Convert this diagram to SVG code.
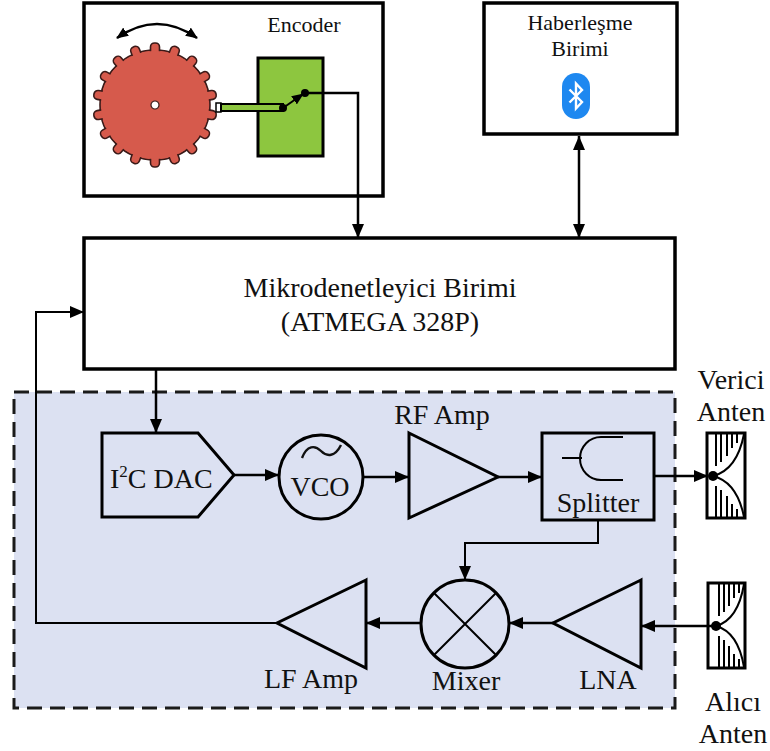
<svg xmlns="http://www.w3.org/2000/svg" width="770" height="751" viewBox="0 0 770 751">
  <style>
    text { font-family: "Liberation Serif", "DejaVu Serif", "Times New Roman", serif; fill: #111; }
    .big { font-size: 28px; }
    .small { font-size: 22px; }
    .box { fill: #fff; stroke: #000; stroke-width: 3.5; }
    .blk { fill: none; stroke: #000; stroke-width: 3; stroke-linejoin: miter; }
    .wire { fill: none; stroke: #000; stroke-width: 2.5; }
    .thin { fill: none; stroke: #000; stroke-width: 2; }
    .tooth { fill: #d65a4c; stroke: #3a1a18; stroke-width: 1.6; }
  </style>
  <defs>
    <marker id="arr" viewBox="0 0 14 12" refX="14" refY="6" markerWidth="14" markerHeight="12" markerUnits="userSpaceOnUse" orient="auto-start-reverse">
      <path d="M0,0 L14,6 L0,12 Z" fill="#000"/>
    </marker>
    <marker id="arrS" viewBox="0 0 12 10" refX="11" refY="5" markerWidth="12" markerHeight="10" markerUnits="userSpaceOnUse" orient="auto-start-reverse">
      <path d="M0,0 L12,5 L0,10 Z" fill="#000"/>
    </marker>
  </defs>

  <rect width="770" height="751" fill="#fff"/>

  <!-- RF section background -->
  <g id="rf-section">
    <rect x="14" y="392" width="661" height="316" fill="#dce1f2" stroke="#1a1a1a" stroke-width="3" stroke-dasharray="15 8"/>
  </g>

  <!-- Encoder unit -->
  <g id="encoder">
    <rect class="box" x="84" y="3" width="299" height="193"/>
    <text class="small" x="304" y="32" text-anchor="middle">Encoder</text>
    <!-- rotation arrow -->
    <path class="wire" d="M117,38 Q157,10 197,38" marker-start="url(#arrS)" marker-end="url(#arrS)"/>
    <!-- gear wheel -->
    <g transform="translate(155,105)">
      <circle r="55" class="tooth"/>
      <g id="teeth">
        <rect class="tooth" x="-4.5" y="-62" width="9" height="14" rx="4" transform="rotate(0)"/>
        <rect class="tooth" x="-4.5" y="-62" width="9" height="14" rx="4" transform="rotate(20)"/>
        <rect class="tooth" x="-4.5" y="-62" width="9" height="14" rx="4" transform="rotate(40)"/>
        <rect class="tooth" x="-4.5" y="-62" width="9" height="14" rx="4" transform="rotate(60)"/>
        <rect class="tooth" x="-4.5" y="-62" width="9" height="14" rx="4" transform="rotate(80)"/>
        <rect class="tooth" x="-4.5" y="-62" width="9" height="14" rx="4" transform="rotate(100)"/>
        <rect class="tooth" x="-4.5" y="-62" width="9" height="14" rx="4" transform="rotate(120)"/>
        <rect class="tooth" x="-4.5" y="-62" width="9" height="14" rx="4" transform="rotate(140)"/>
        <rect class="tooth" x="-4.5" y="-62" width="9" height="14" rx="4" transform="rotate(160)"/>
        <rect class="tooth" x="-4.5" y="-62" width="9" height="14" rx="4" transform="rotate(180)"/>
        <rect class="tooth" x="-4.5" y="-62" width="9" height="14" rx="4" transform="rotate(200)"/>
        <rect class="tooth" x="-4.5" y="-62" width="9" height="14" rx="4" transform="rotate(220)"/>
        <rect class="tooth" x="-4.5" y="-62" width="9" height="14" rx="4" transform="rotate(240)"/>
        <rect class="tooth" x="-4.5" y="-62" width="9" height="14" rx="4" transform="rotate(260)"/>
        <rect class="tooth" x="-4.5" y="-62" width="9" height="14" rx="4" transform="rotate(280)"/>
        <rect class="tooth" x="-4.5" y="-62" width="9" height="14" rx="4" transform="rotate(300)"/>
        <rect class="tooth" x="-4.5" y="-62" width="9" height="14" rx="4" transform="rotate(320)"/>
        <rect class="tooth" x="-4.5" y="-62" width="9" height="14" rx="4" transform="rotate(340)"/>
      </g>
      <circle r="54" fill="#d65a4c"/>
      <circle r="4" fill="#fff" stroke="#3a1a18" stroke-width="1.2"/>
    </g>
    <!-- sensor block and shaft -->
    <rect x="258" y="58" width="65" height="98" fill="#8dc63f" stroke="#000" stroke-width="3"/>
    <rect x="216" y="103" width="5" height="9" fill="#fff" stroke="#000" stroke-width="1.5"/>
    <rect x="221" y="104" width="62" height="7" fill="#8dc63f" stroke="#000" stroke-width="2"/>
    <circle cx="283" cy="108" r="4" fill="#000"/>
    <line class="thin" x1="283" y1="108" x2="303" y2="94" marker-end="url(#arrS)"/>
    <circle cx="305" cy="93" r="4" fill="#000"/>
  </g>

  <!-- Communication unit -->
  <g id="comm">
    <rect class="box" x="484" y="3" width="193" height="131"/>
    <text class="small" x="580" y="30" text-anchor="middle">Haberleşme</text>
    <text class="small" x="580" y="56" text-anchor="middle">Birimi</text>
    <rect x="562" y="73" width="28" height="46" rx="14" fill="#1e88f0"/>
    <path d="M569.5,89.5 L582,102 L576,108.5 L576,83.5 L582,90 L569.5,102.5" fill="none" stroke="#fff" stroke-width="2.4" stroke-linejoin="miter"/>
  </g>

  <!-- Microcontroller -->
  <g id="mcu">
    <rect class="box" x="84" y="238" width="591" height="131"/>
    <text class="big" x="380" y="297" text-anchor="middle">Mikrodenetleyici Birimi</text>
    <text class="big" x="380" y="331" text-anchor="middle">(ATMEGA 328P)</text>
  </g>

  <!-- DAC -->
  <g id="dac">
    <path class="blk" d="M102,433 L198,433 L234,475 L198,517 L102,517 Z"/>
    <text class="big" x="110" y="488">I<tspan font-size="17" dy="-11">2</tspan><tspan dy="11">C DAC</tspan></text>
  </g>

  <!-- VCO -->
  <g id="vco">
    <circle class="blk" cx="321" cy="477" r="42"/>
    <path d="M302,458 C307,445 315,445 321,451 C327,457 335,457 341,445" fill="none" stroke="#111" stroke-width="2.4"/>
    <text class="big" x="320" y="496" text-anchor="middle">VCO</text>
  </g>

  <!-- RF amplifier -->
  <g id="rf-amp">
    <path class="blk" d="M409,433 L498,477 L409,518 Z"/>
    <text class="big" x="442" y="424" text-anchor="middle">RF Amp</text>
  </g>

  <!-- Splitter -->
  <g id="splitter">
    <rect class="blk" x="542" y="433" width="112" height="87"/>
    <path class="thin" d="M562,458 L582,458 M623,437 L601,437 A21,21.5 0 0 0 601,480 L623,480"/>
    <text class="big" x="598" y="512" text-anchor="middle">Splitter</text>
  </g>

  <!-- Transmit antenna -->
  <g id="tx-antenna">
    <rect x="707" y="433" width="38" height="85" fill="#fff" stroke="#000" stroke-width="3"/>
    <path class="thin" d="M713,476 Q737,470 744,434 M713,476 Q737,482 744,517"/>
    <path class="thin" d="M716,434 V466 M721,434 V462 M727,434 V456 M732,434 V448 M737,434 V443 M716,518 V486 M721,518 V490 M727,518 V496 M732,518 V504 M737,518 V509"/>
    <circle cx="713" cy="476" r="5" fill="#000"/>
    <text class="big" x="731" y="389" text-anchor="middle">Verici</text>
    <text class="big" x="731" y="421" text-anchor="middle">Anten</text>
  </g>

  <!-- Receive antenna -->
  <g id="rx-antenna">
    <rect x="708" y="583" width="37" height="85" fill="#fff" stroke="#000" stroke-width="3"/>
    <path class="thin" d="M716,626 Q738,620 744,584 M716,626 Q738,632 744,667"/>
    <path class="thin" d="M719,584 V616 M724,584 V612 M729,584 V606 M734,584 V598 M739,584 V593 M719,667 V636 M724,667 V640 M729,667 V646 M734,667 V654 M739,667 V659"/>
    <circle cx="716" cy="626" r="5" fill="#000"/>
    <text class="big" x="733" y="711" text-anchor="middle">Alıcı</text>
    <text class="big" x="733" y="743" text-anchor="middle">Anten</text>
  </g>

  <!-- LNA -->
  <g id="lna">
    <path class="blk" d="M641,580 L553,623 L641,668 Z"/>
    <text class="big" x="608" y="689" text-anchor="middle">LNA</text>
  </g>

  <!-- Mixer -->
  <g id="mixer">
    <circle class="blk" cx="465" cy="624" r="44"/>
    <path class="thin" d="M434,593 L496,655 M496,593 L434,655" stroke-width="2.2"/>
    <text class="big" x="466" y="690" text-anchor="middle">Mixer</text>
  </g>

  <!-- LF amplifier -->
  <g id="lf-amp">
    <path class="blk" d="M366,580 L277,623 L366,668 Z"/>
    <text class="big" x="311" y="688" text-anchor="middle">LF Amp</text>
  </g>

  <!-- Signal connections -->
  <g id="connectors">
    <path class="wire" d="M305,93 H358 V238" marker-end="url(#arr)"/>
    <path class="wire" d="M579,136 V238" stroke-width="3" marker-start="url(#arr)" marker-end="url(#arr)"/>
    <path class="wire" d="M156,369 V433" marker-end="url(#arr)"/>
    <path class="wire" d="M234,475 H279" marker-end="url(#arr)"/>
    <path class="wire" d="M363,477 H409" marker-end="url(#arr)"/>
    <path class="wire" d="M498,477 H542" marker-end="url(#arr)"/>
    <path class="wire" d="M654,476 H708" marker-end="url(#arr)"/>
    <path class="thin" d="M598,520 V543 H465 V580" marker-end="url(#arr)"/>
    <path class="wire" d="M716,626 H641" marker-end="url(#arr)"/>
    <path class="wire" d="M553,623 H509" marker-end="url(#arr)"/>
    <path class="wire" d="M421,623 H366" marker-end="url(#arr)"/>
    <path class="thin" d="M277,623 H36 V312 H84" marker-end="url(#arr)"/>
  </g>
</svg>
